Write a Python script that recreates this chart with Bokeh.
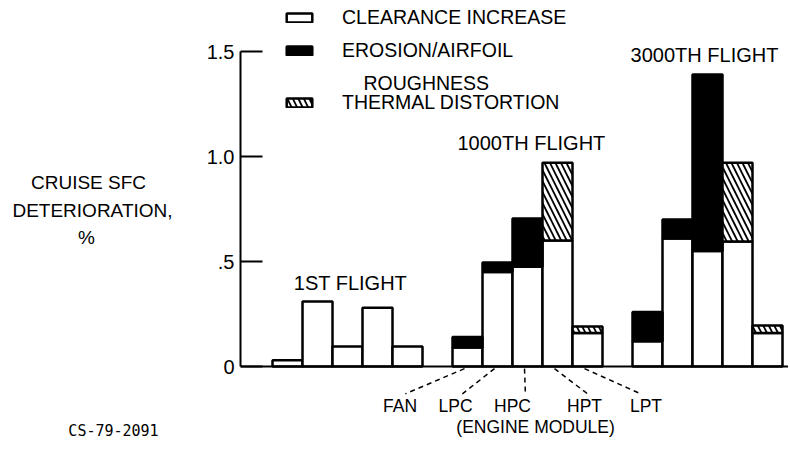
from bokeh.plotting import figure
from bokeh.models import (ColumnDataSource, Legend, LegendItem, Label, LabelSet,
                          Span, FixedTicker, Range1d)
from bokeh.layouts import row
from bokeh.core.properties import value
from bokeh.embed import file_html
from bokeh.resources import INLINE

# ---- data -------------------------------------------------------------
modules = ["FAN", "LPC", "HPC", "HPT", "LPT"]
flights = ["1ST FLIGHT", "1000TH FLIGHT", "3000TH FLIGHT"]

clearance_1st = [0.03, 0.31, 0.095, 0.28, 0.095]
clearance_1000 = [0.09, 0.45, 0.475, 0.60, 0.16]
clearance_3000 = [0.12, 0.61, 0.55, 0.595, 0.16]

erosion_1st = [0.0, 0.0, 0.0, 0.0, 0.0]
erosion_1000 = [0.05, 0.045, 0.23, 0.0, 0.0]
erosion_3000 = [0.14, 0.09, 0.84, 0.0, 0.0]

thermal_1st = [0.0, 0.0, 0.0, 0.0, 0.0]
thermal_1000 = [0.0, 0.0, 0.0, 0.37, 0.03]
thermal_3000 = [0.0, 0.0, 0.0, 0.375, 0.035]

y_ticks = [0, 0.5, 1.0, 1.5]
y_tick_labels = {0: "0", 0.5: ".5", 1.0: "1.0", 1.5: "1.5"}
y_title = ["CRUISE SFC", "DETERIORATION,", "%"]

FONT = "Liberation Sans"
INK = "black"

# ---- build stacked segments ------------------------------------------
clear_all = [clearance_1st, clearance_1000, clearance_3000]
eros_all = [erosion_1st, erosion_1000, erosion_3000]
therm_all = [thermal_1st, thermal_1000, thermal_3000]

c = dict(x=[], bottom=[], top=[])
e = dict(x=[], bottom=[], top=[])
t = dict(x=[], bottom=[], top=[])
for g in range(3):
    for i in range(5):
        x = 6 * g + i
        cv, ev, tv = clear_all[g][i], eros_all[g][i], therm_all[g][i]
        c["x"].append(x); c["bottom"].append(0); c["top"].append(cv)
        if ev > 0:
            e["x"].append(x); e["bottom"].append(cv); e["top"].append(cv + ev)
        if tv > 0:
            t["x"].append(x); t["bottom"].append(cv + ev); t["top"].append(cv + ev + tv)

H = 452
LEFT_W = 190
yr = Range1d(-0.4095, 1.7429)

# ---- left panel: axis title and figure number -------------------------
pl = figure(width=LEFT_W, height=H, output_backend="svg", toolbar_location=None,
            x_axis_location=None, y_axis_location=None,
            min_border_left=0, min_border_right=0, min_border_top=0, min_border_bottom=0,
            x_range=Range1d(0, LEFT_W), y_range=yr)
pl.outline_line_color = None
pl.grid.visible = False
for txt, lx, ly in zip(y_title, [88, 92, 86], [0.876, 0.743, 0.614]):
    pl.add_layout(Label(x=lx, y=ly, text=txt, text_font=FONT, text_font_size="19px",
                        text_color=INK, text_align="center", text_baseline="middle"))
pl.add_layout(Label(x=113, y=-0.305, text="CS-79-2091", text_font="DejaVu Sans Mono",
                    text_font_size="15px", text_color=INK,
                    text_align="center", text_baseline="middle"))

# ---- main chart -------------------------------------------------------
p = figure(width=788 - LEFT_W, height=H, output_backend="svg", toolbar_location=None,
           x_axis_location=None, min_border_left=240 - LEFT_W, min_border_right=0,
           min_border_top=0, min_border_bottom=0,
           x_range=Range1d(-1.567, 16.7), y_range=yr)
p.outline_line_color = None
p.grid.visible = False
p.background_fill_color = "white"
p.border_fill_color = "white"

bar_kw = dict(width=1.0, line_color="black", line_width=2.5)
r_c = p.vbar(x="x", bottom="bottom", top="top", source=ColumnDataSource(c),
             fill_color="white", **bar_kw)
r_e = p.vbar(x="x", bottom="bottom", top="top", source=ColumnDataSource(e),
             fill_color="black", **bar_kw)
r_t = p.vbar(x="x", bottom="bottom", top="top", source=ColumnDataSource(t),
             fill_color="white", hatch_pattern="\\", hatch_color="black",
             hatch_scale=11, hatch_weight=1.8, **bar_kw)

# baseline
p.add_layout(Span(location=0, dimension="width", line_color="black", line_width=2))

# y axis
ax = p.yaxis[0]
ax.bounds = (0, 1.5)
ax.ticker = FixedTicker(ticks=y_ticks)
ax.major_label_overrides = y_tick_labels
ax.major_tick_in = 22
ax.major_tick_out = 0
ax.minor_tick_line_color = None
ax.axis_line_width = 2
ax.axis_line_color = "black"
ax.major_tick_line_width = 2
ax.major_tick_line_color = "black"
ax.major_label_standoff = 6
ax.major_label_text_font = FONT
ax.major_label_text_font_size = "20px"
ax.major_label_text_color = INK

# legend
leg_kw = dict(padding=0, margin=0, border_line_color=None, background_fill_alpha=0,
              glyph_width=32, glyph_height=11, label_standoff=27, label_height=24,
              spacing=9, label_text_font=FONT, label_text_font_size="19.5px",
              label_text_color=INK)
leg1 = Legend(items=[LegendItem(label="CLEARANCE INCREASE", renderers=[r_c]),
                     LegendItem(label="EROSION/AIRFOIL", renderers=[r_e])],
              location=(43, 390), **leg_kw)
leg2 = Legend(items=[LegendItem(label="THERMAL DISTORTION", renderers=[r_t])],
              location=(43, 338), **leg_kw)
p.add_layout(leg1)
p.add_layout(leg2)
p.add_layout(Label(x=2.53, y=1.352, text="ROUGHNESS", text_font=FONT, text_color=INK,
                   text_font_size="19.5px", text_baseline="middle", text_align="left"))

# flight labels
flight_x = [2.1, 8.13, 13.9]
flight_y = [0.40, 1.062, 1.481]
for txt, fx, fy in zip(flights, flight_x, flight_y):
    p.add_layout(Label(x=fx, y=fy, text=txt, text_font=FONT, text_font_size="20px",
                       text_color=INK, text_align="center", text_baseline="middle"))

# engine module labels with dashed leaders
mod_label_x = [3.75, 5.6, 7.5, 9.9, 11.95]
leader_bottom_x = [3.93, 5.83, 7.93, 10.0, 11.77]
bar_centers = [6 + i for i in range(5)]
p.segment(x0=[b - 0.1 for b in bar_centers], y0=[-0.01] * 5,
          x1=leader_bottom_x, y1=[-0.13] * 5,
          line_color="black", line_width=1.5, line_dash="5 4")
p.add_layout(LabelSet(x="x", y="y", text="text",
                      source=ColumnDataSource(dict(x=mod_label_x, y=[-0.186] * 5, text=modules)),
                      text_font=value(FONT), text_font_size=value("17.5px"),
                      text_color=INK, text_align="center", text_baseline="middle"))
p.add_layout(Label(x=8.27, y=-0.29, text="(ENGINE MODULE)", text_font=FONT,
                   text_font_size="17.5px", text_color=INK,
                   text_align="center", text_baseline="middle"))

layout = row(pl, p, spacing=0)
open("out.html", "w").write(file_html(layout, INLINE))
